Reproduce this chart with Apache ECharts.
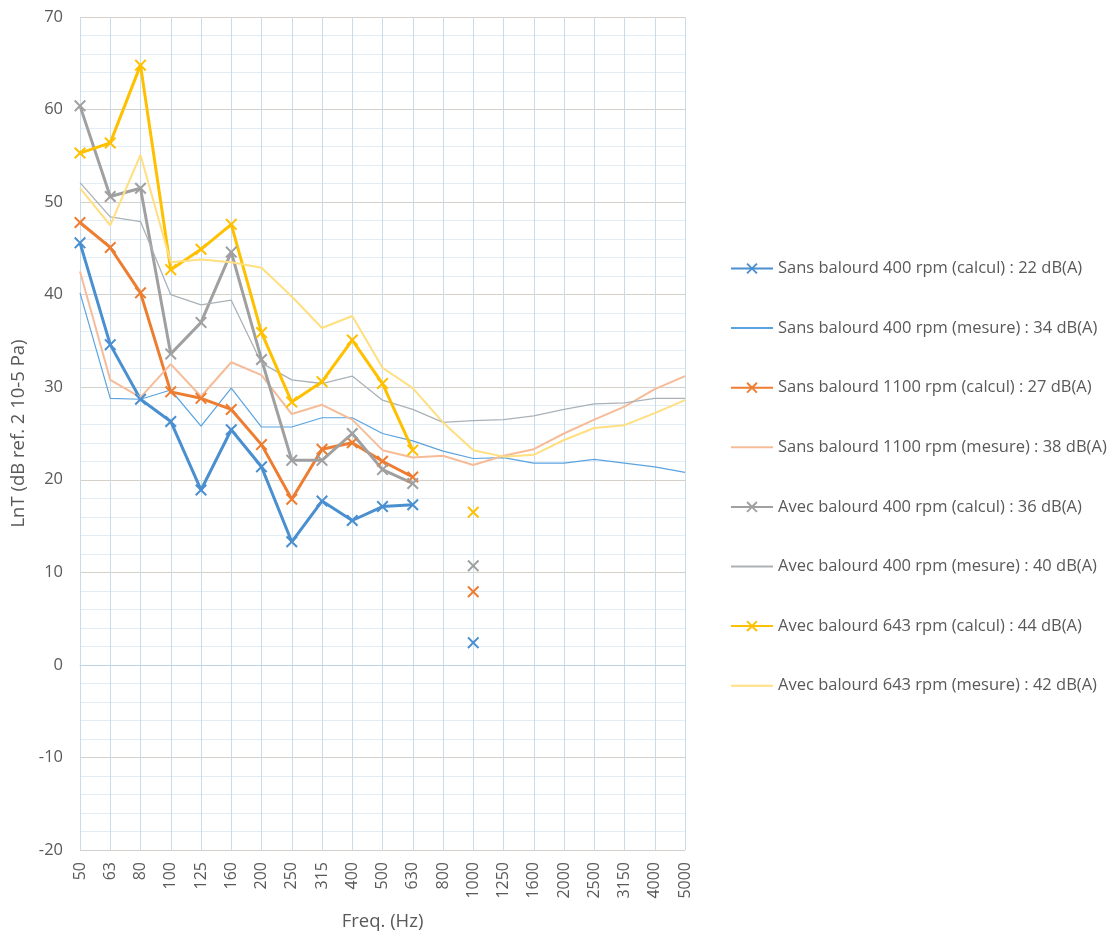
<!DOCTYPE html>
<html>
<head>
<meta charset="utf-8">
<script src="https://cdn.jsdelivr.net/npm/echarts@6/dist/echarts.min.js"></script>
<style>
  html, body { margin: 0; padding: 0; background: #ffffff; }
  #chart { width: 1117px; height: 935px; }
</style>
</head>
<body>
<div id="chart"></div>
<script>
// Third-octave band centre frequencies (Hz)
const frequencies = ['50','63','80','100','125','160','200','250','315','400','500','630',
  '800','1000','1250','1600','2000','2500','3150','4000','5000'];

// LnT levels, dB ref. 2 10-5 Pa
const sans400Calcul = [45.6, 34.6, 28.7, 26.3, 18.9, 25.4, 21.4, 13.3, 17.7, 15.6, 17.1, 17.3,
  null, 2.4, null, null, null, null, null, null, null];
const sans400Mesure = [40.2, 28.8, 28.7, 29.7, 25.8, 29.9, 25.7, 25.7, 26.7, 26.7, 25.0, 24.2,
  23.1, 22.3, 22.4, 21.8, 21.8, 22.2, 21.8, 21.4, 20.8];
const sans1100Calcul = [47.8, 45.1, 40.2, 29.5, 28.8, 27.6, 23.8, 17.9, 23.3, 24.0, 22.0, 20.3,
  null, 7.9, null, null, null, null, null, null, null];
const sans1100Mesure = [42.5, 30.8, 28.9, 32.5, 29.0, 32.7, 31.3, 27.1, 28.1, 26.5, 23.2, 22.4,
  22.6, 21.6, 22.6, 23.3, 25.0, 26.5, 27.9, 29.8, 31.2];
const avec400Calcul = [60.4, 50.6, 51.5, 33.6, 37.0, 44.6, 33.0, 22.1, 22.1, 25.0, 21.1, 19.6,
  null, 10.7, null, null, null, null, null, null, null];
const avec400Mesure = [52.1, 48.4, 47.9, 40.0, 38.9, 39.4, 32.6, 30.8, 30.4, 31.2, 28.6, 27.6,
  26.2, 26.4, 26.5, 26.9, 27.6, 28.2, 28.3, 28.8, 28.8];
const avec643Calcul = [55.3, 56.4, 64.8, 42.7, 44.9, 47.6, 35.9, 28.4, 30.6, 35.1, 30.4, 23.2,
  null, 16.5, null, null, null, null, null, null, null];
const avec643Mesure = [51.5, 47.5, 55.1, 43.5, 43.8, 43.5, 42.9, 39.8, 36.4, 37.7, 32.1, 29.9,
  26.2, 23.2, 22.5, 22.7, 24.3, 25.6, 25.9, 27.2, 28.6];

const seriesNames = [
  'Sans balourd 400 rpm (calcul) : 22 dB(A)',
  'Sans balourd 400 rpm (mesure) : 34 dB(A)',
  'Sans balourd 1100 rpm (calcul) : 27 dB(A)',
  'Sans balourd 1100 rpm (mesure) : 38 dB(A)',
  'Avec balourd 400 rpm (calcul) : 36 dB(A)',
  'Avec balourd 400 rpm (mesure) : 40 dB(A)',
  'Avec balourd 643 rpm (calcul) : 44 dB(A)',
  'Avec balourd 643 rpm (mesure) : 42 dB(A)'
];
const isMeasured = [false, true, false, true, false, true, false, true];

const textColor = '#595959';
const fontFamily = '"Open Sans", "Noto Sans", sans-serif';
// Filled X-shaped marker
const crossSymbol = 'path://M0.12,0 L0.5,0.38 L0.88,0 L1,0.12 L0.62,0.5 L1,0.88 L0.88,1 L0.5,0.62 L0.12,1 L0,0.88 L0.38,0.5 L0,0.12 Z';

function calcSeries(name, data, color) {
  return {
    name, type: 'line', data,
    symbol: crossSymbol, symbolSize: 12, showSymbol: true, showAllSymbol: true,
    connectNulls: false,
    lineStyle: { color, width: 3 },
    itemStyle: { color },
    emphasis: { disabled: true },
    animation: false
  };
}
function measSeries(name, data, color, width) {
  return {
    name, type: 'line', data,
    symbol: 'none', showSymbol: false,
    lineStyle: { color, width },
    itemStyle: { color },
    emphasis: { disabled: true },
    animation: false
  };
}

// Measured series show a plain line in the legend (no marker)
const legendData = seriesNames.map((name, i) => isMeasured[i]
  ? { name, itemStyle: { color: 'rgba(0,0,0,0)', borderColor: 'rgba(0,0,0,0)', borderWidth: 0 } }
  : { name });

const chart = echarts.init(document.getElementById('chart'), null, { renderer: 'canvas' });
chart.setOption({
  backgroundColor: '#ffffff',
  animation: false,
  textStyle: { fontFamily },
  grid: { left: 80, right: 432, top: 17, bottom: 85, containLabel: false, outerBoundsMode: 'none' },
  xAxis: {
    type: 'category',
    data: frequencies,
    boundaryGap: false,
    name: 'Freq. (Hz)',
    nameLocation: 'middle',
    nameGap: 62,
    nameTextStyle: { color: textColor, fontSize: 18.5, fontFamily },
    axisLine: { show: true, lineStyle: { color: '#bcd3e6', width: 1 } },
    axisTick: { show: false },
    axisLabel: { rotate: 90, interval: 0, color: textColor, fontSize: 16, margin: 12, fontFamily },
    splitLine: { show: true, interval: 0, lineStyle: { color: '#c9dceb', width: 1 } }
  },
  yAxis: {
    type: 'value',
    min: -20, max: 70, interval: 10,
    name: 'LnT (dB ref. 2 10-5 Pa)',
    nameLocation: 'middle',
    nameGap: 44,
    nameRotate: 90,
    nameTextStyle: { color: textColor, fontSize: 18.5, fontFamily },
    axisLine: { show: false },
    axisTick: { show: false },
    axisLabel: { color: textColor, fontSize: 16.5, margin: 17, fontFamily },
    splitLine: { show: true, lineStyle: { color: '#d6d0ca', width: 1 } },
    minorTick: { show: false, splitNumber: 5 },
    minorSplitLine: { show: true, lineStyle: { color: '#e3edf5', width: 1 } }
  },
  legend: {
    orient: 'vertical',
    left: 730,
    top: 260,
    padding: 0,
    itemWidth: 42,
    itemHeight: 14,
    itemGap: 42.6,
    textStyle: { color: textColor, fontSize: 16.5, fontFamily },
    data: legendData
  },
  series: [
    calcSeries(seriesNames[0], sans400Calcul, '#4a8fd0'),
    measSeries(seriesNames[1], sans400Mesure, '#5ba3e0', 1.2),
    calcSeries(seriesNames[2], sans1100Calcul, '#ed7d31'),
    measSeries(seriesNames[3], sans1100Mesure, '#f6bc98', 2),
    calcSeries(seriesNames[4], avec400Calcul, '#a0a0a0'),
    measSeries(seriesNames[5], avec400Mesure, '#aab2b8', 1.3),
    calcSeries(seriesNames[6], avec643Calcul, '#ffc000'),
    measSeries(seriesNames[7], avec643Mesure, '#ffdf80', 2)
  ]
});
</script>
</body>
</html>
